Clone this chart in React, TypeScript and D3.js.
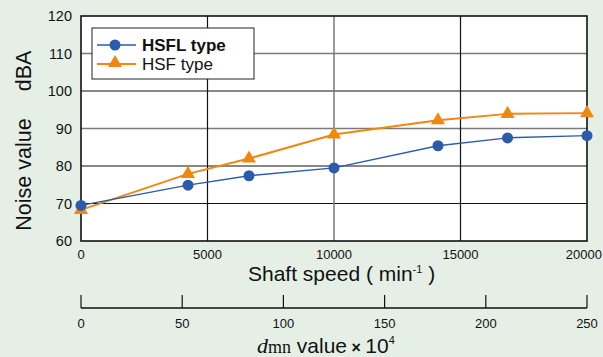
import React from "react";
import * as d3 from "d3";

const speeds = [0, 4230, 6640, 10000, 14110, 16860, 20000];
const hsfl = [69.5, 74.9, 77.4, 79.5, 85.4, 87.5, 88.1];
const hsf = [68.3, 77.9, 82.0, 88.4, 92.2, 93.9, 94.1];
const yTicks = [60, 70, 80, 90, 100, 110, 120];
const xTicks = [0, 5000, 10000, 15000, 20000];
const dmnTicks = [0, 50, 100, 150, 200, 250];
const grayY = [90, 110];
const grayX = [10000];

const W = 603, H = 357;
const L = 81, R = 587, T = 16, B = 241;
const BLUE = "#2a5caa";
const ORANGE = "#f0870f";
const FONT = "'Liberation Sans', Arial, sans-serif";
const SERIF = "'Liberation Serif', serif";

export default function App() {
  const x = d3.scaleLinear().domain([0, 20000]).range([L, R]);
  const y = d3.scaleLinear().domain([60, 120]).range([B, T]);
  const xd = d3.scaleLinear().domain([0, 250]).range([L, R]);
  const line = d3.line<number>().x((_, i) => x(speeds[i])).y((v) => y(v));
  const tri = d3.symbol().type(d3.symbolTriangle).size(85)();
  const axisY = 308;

  return (
    <svg width={W} height={H} style={{ position: "absolute", left: 0, top: 0, display: "block" }} fontFamily={FONT}>
      <rect width={W} height={H} fill="#e5efe6" />
      <rect x={L} y={T} width={R - L} height={B - T} fill="#fff" />
      {yTicks.slice(1, -1).map((t) => (
        <line key={"gy" + t} x1={L} x2={R} y1={y(t)} y2={y(t)}
          stroke={grayY.includes(t) ? "#7a7a7a" : "#111"} strokeWidth={grayY.includes(t) ? 1.5 : 1.2} />
      ))}
      {xTicks.slice(1, -1).map((t) => (
        <line key={"gx" + t} x1={x(t)} x2={x(t)} y1={T} y2={B}
          stroke={grayX.includes(t) ? "#7a7a7a" : "#111"} strokeWidth={grayX.includes(t) ? 1.5 : 1.2} />
      ))}
      <rect x={L} y={T} width={R - L} height={B - T} fill="none" stroke="#111" strokeWidth={1.6} />
      {yTicks.map((t) => (
        <text key={"yt" + t} x={72} y={y(t) + 5} textAnchor="end" fontSize={14.5} fill="#111">{t}</text>
      ))}
      {xTicks.map((t, i) => {
        const last = i === xTicks.length - 1;
        return (
          <text key={"xt" + t} x={last ? 602 : x(t)} y={259} textAnchor={last ? "end" : "middle"}
            fontSize={13} fill="#111">{t}</text>
        );
      })}
      <path d={line(hsf) || ""} fill="none" stroke={ORANGE} strokeWidth={2} />
      <path d={line(hsfl) || ""} fill="none" stroke={BLUE} strokeWidth={1.5} />
      {hsf.map((v, i) => (
        <path key={"t" + i} d={tri || ""} transform={`translate(${x(speeds[i])},${y(v)})`} fill={ORANGE} />
      ))}
      {hsfl.map((v, i) => (
        <circle key={"c" + i} cx={x(speeds[i])} cy={y(v)} r={5.5} fill={BLUE} />
      ))}
      {/* legend */}
      <rect x={92} y={28} width={162} height={51} fill="#fff" stroke="#222" strokeWidth={1} />
      <line x1={97} x2={136} y1={45} y2={45} stroke={BLUE} strokeWidth={1.5} />
      <circle cx={115} cy={45} r={5.5} fill={BLUE} />
      <text x={142} y={50.5} fontSize={17} fontWeight="bold" fill="#111">HSFL type</text>
      <line x1={97} x2={136} y1={64} y2={64} stroke={ORANGE} strokeWidth={2} />
      <path d={tri || ""} transform="translate(115,63)" fill={ORANGE} />
      <text x={142} y={70} fontSize={17} fill="#111">HSF type</text>
      {/* y label */}
      <text transform="translate(31,174.5) rotate(-90)" textAnchor="middle" fontSize={21.5} fill="#111">Noise value</text>
      <text transform="translate(31,71) rotate(-90)" textAnchor="middle" fontSize={21.5} fill="#111">dBA</text>
      {/* x label */}
      <text x={248} y={281} fontSize={21} fill="#111">
        Shaft speed ( min<tspan fontSize={11} dy={-8}>-1</tspan><tspan dy={8}> )</tspan>
      </text>
      {/* dmn axis */}
      <line x1={L} x2={R} y1={axisY} y2={axisY} stroke="#111" strokeWidth={1.6} />
      {dmnTicks.map((t) => (
        <g key={"dt" + t}>
          <line x1={xd(t)} x2={xd(t)} y1={axisY} y2={axisY - 13} stroke="#111" strokeWidth={1.2} />
          <text x={xd(t)} y={328} textAnchor="middle" fontSize={13} fill="#111">{t}</text>
        </g>
      ))}
      <text x={257} y={353} fontSize={21} fill="#111">
        <tspan fontFamily={SERIF} fontStyle="italic" fontSize={22}>d</tspan>
        <tspan fontFamily={SERIF} fontSize={18}>mn</tspan>
        <tspan> value</tspan>
        <tspan fontSize={16} fontWeight="bold"> × </tspan>
        <tspan>10</tspan>
        <tspan fontSize={11} dy={-9}>4</tspan>
      </text>
    </svg>
  );
}
